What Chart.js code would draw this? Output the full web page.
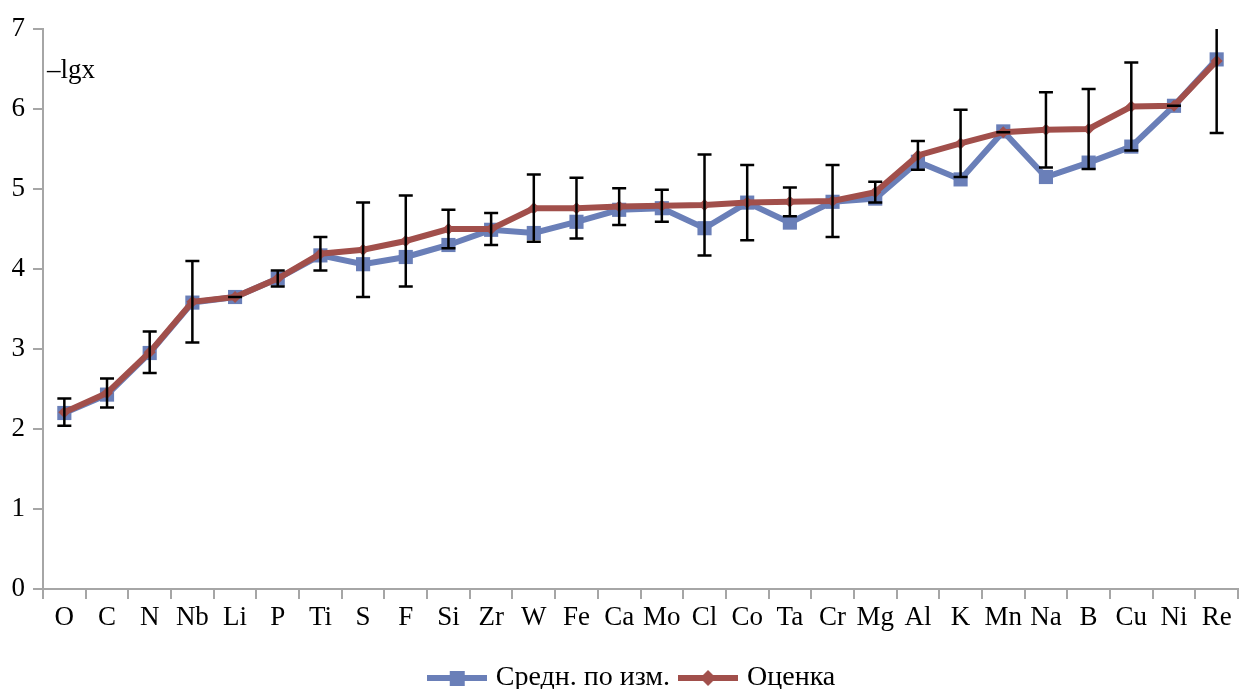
<!DOCTYPE html>
<html>
<head>
<meta charset="utf-8">
<script src="https://cdn.jsdelivr.net/npm/chart.js@4/dist/chart.umd.min.js"></script>
<style>
  html, body { margin: 0; padding: 0; background: #fff; }
  #wrap { width: 1248px; height: 689px; position: relative; }
</style>
</head>
<body>
<div id="wrap"><canvas id="chart"></canvas></div>
<script>
// элементы по оси X
const elements = ['O', 'C', 'N', 'Nb', 'Li', 'P', 'Ti', 'S', 'F', 'Si', 'Zr', 'W', 'Fe', 'Ca', 'Mo',
  'Cl', 'Co', 'Ta', 'Cr', 'Mg', 'Al', 'K', 'Mn', 'Na', 'B', 'Cu', 'Ni', 'Re'];

// среднее по измерениям (синяя линия)
const measured = [2.20, 2.43, 2.95, 3.58, 3.65, 3.88, 4.17, 4.06, 4.15, 4.30, 4.49, 4.45, 4.59, 4.74, 4.76,
  4.51, 4.83, 4.58, 4.84, 4.88, 5.34, 5.12, 5.72, 5.15, 5.33, 5.53, 6.04, 6.62];

// оценка (красная линия)
const estimate = [2.21, 2.45, 2.96, 3.59, 3.65, 3.88, 4.19, 4.24, 4.35, 4.50, 4.50, 4.76, 4.76, 4.78, 4.79,
  4.80, 4.83, 4.84, 4.85, 4.96, 5.42, 5.57, 5.71, 5.74, 5.75, 6.03, 6.04, 6.60];

// погрешность оценки (±)
const errors = [0.17, 0.18, 0.26, 0.51, 0.0, 0.10, 0.21, 0.59, 0.57, 0.24, 0.20, 0.42, 0.38, 0.23, 0.20,
  0.63, 0.47, 0.18, 0.45, 0.13, 0.18, 0.42, 0.0, 0.47, 0.50, 0.55, 0.0, 0.90];

const yTicks = [0, 1, 2, 3, 4, 5, 6, 7];

const BLUE = '#6a7fb8';
const RED = '#a14f4b';
const AXIS = '#a6a6a6';
const FONT = 'Liberation Serif';
const FSIZE = 27;

// маленькая картинка для легенды: линия + маркер
function legendIcon(color, marker) {
  const c = document.createElement('canvas');
  c.width = 60; c.height = 22;
  const g = c.getContext('2d');
  g.strokeStyle = color;
  g.lineWidth = 6;
  g.beginPath(); g.moveTo(0, 11); g.lineTo(60, 11); g.stroke();
  g.fillStyle = color;
  if (marker === 'square') {
    g.fillRect(23, 4, 15, 15);
  } else {
    g.beginPath(); g.moveTo(30, 3); g.lineTo(38, 11); g.lineTo(30, 19); g.lineTo(22, 11); g.closePath(); g.fill();
  }
  return c;
}

// усы погрешностей и подпись оси
const errorBars = {
  id: 'errorBars',
  afterLayout(chart) {
    // легенда в оригинале чуть правее центра
    if (chart.legend) chart.legend.left += 24;
  },
  afterDatasetsDraw(chart) {
    const ctx = chart.ctx;
    const xs = chart.scales.x, ys = chart.scales.y;
    const ymax = ys.max;
    ctx.save();
    ctx.strokeStyle = '#000';
    ctx.lineWidth = 2.5;
    estimate.forEach((v, i) => {
      const x = xs.getPixelForValue(i);
      const hiVal = v + errors[i];
      const top = ys.getPixelForValue(Math.min(hiVal, ymax));
      const bot = ys.getPixelForValue(v - errors[i]);
      ctx.beginPath();
      ctx.moveTo(x, top); ctx.lineTo(x, bot);
      if (hiVal <= ymax) { ctx.moveTo(x - 7, top); ctx.lineTo(x + 7, top); }
      ctx.moveTo(x - 7, bot); ctx.lineTo(x + 7, bot);
      ctx.stroke();
    });
    ctx.fillStyle = '#000';
    ctx.font = FSIZE + 'px "' + FONT + '"';
    ctx.textBaseline = 'alphabetic';
    ctx.fillText('\u2013lgx', chart.chartArea.left + 4, chart.chartArea.top + 49);
    ctx.restore();
  }
};

const icons = [legendIcon(BLUE, 'square'), legendIcon(RED, 'diamond')];

new Chart(document.getElementById('chart'), {
  type: 'line',
  data: {
    labels: elements,
    datasets: [
      {
        label: 'Средн. по изм.',
        data: measured,
        borderColor: BLUE,
        backgroundColor: BLUE,
        borderWidth: 6,
        pointStyle: 'rect',
        pointRadius: 10,
        pointBorderWidth: 0,
        tension: 0,
        order: 1
      },
      {
        label: 'Оценка',
        data: estimate,
        borderColor: RED,
        backgroundColor: RED,
        borderWidth: 6,
        pointStyle: 'rectRot',
        pointRadius: 6,
        pointBorderWidth: 0,
        tension: 0,
        order: 0
      }
    ]
  },
  options: {
    responsive: true,
    maintainAspectRatio: false,
    animation: false,
    layout: { padding: { top: 29, right: 5, left: 0, bottom: 0 } },
    scales: {
      x: {
        offset: true,
        grid: { display: true, offset: true, drawOnChartArea: false, drawTicks: true, tickLength: 10, color: AXIS, lineWidth: 2 },
        border: { color: AXIS, width: 2 },
        ticks: { color: '#000', font: { family: FONT, size: FSIZE }, padding: 3, maxRotation: 0, autoSkip: false },
        afterFit(scale) { scale.height = 62; }
      },
      y: {
        min: 0,
        max: 7,
        afterBuildTicks(scale) { scale.ticks = yTicks.map(v => ({ value: v })); },
        grid: { display: true, drawOnChartArea: false, drawTicks: true, tickLength: 10, color: AXIS, lineWidth: 2 },
        border: { color: AXIS, width: 2 },
        ticks: { color: '#000', font: { family: FONT, size: FSIZE }, padding: 8 },
        afterFit(scale) { scale.width = 43; }
      }
    },
    plugins: {
      legend: {
        position: 'bottom',
        maxHeight: 38,
        labels: {
          usePointStyle: true,
          pointStyleWidth: 50,
          color: '#000',
          font: { family: FONT, size: 28 },
          padding: 13,
          generateLabels() {
            return [
              { text: 'Средн. по изм.', pointStyle: icons[0], fillStyle: BLUE, strokeStyle: BLUE, lineWidth: 0, datasetIndex: 0 },
              { text: 'Оценка', pointStyle: icons[1], fillStyle: RED, strokeStyle: RED, lineWidth: 0, datasetIndex: 1 }
            ];
          }
        }
      },
      tooltip: { enabled: false }
    }
  },
  plugins: [errorBars]
});
</script>
</body>
</html>
